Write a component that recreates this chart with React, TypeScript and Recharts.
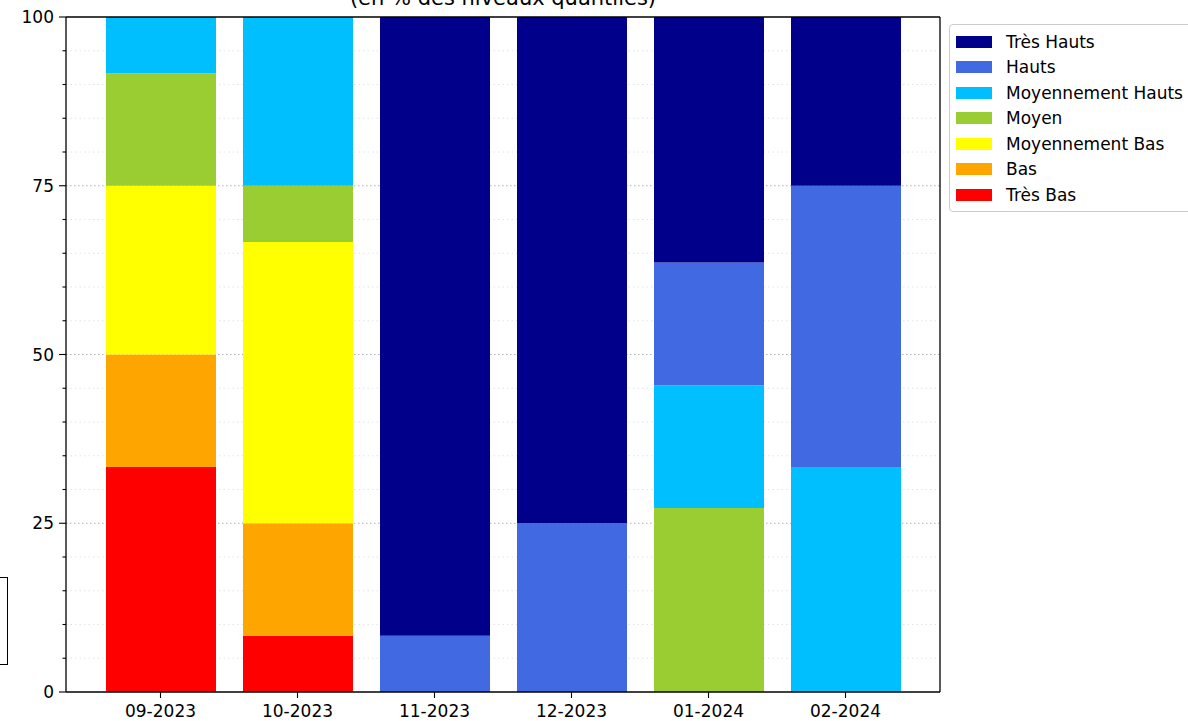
import { Bar, BarChart, CartesianGrid, Legend, XAxis, YAxis } from "recharts";

const months = ["09-2023", "10-2023", "11-2023", "12-2023", "01-2024", "02-2024"];
const tresBas = [33.33, 8.33, 0, 0, 0, 0];
const bas = [16.67, 16.67, 0, 0, 0, 0];
const moyBas = [25, 41.67, 0, 0, 0, 0];
const moyen = [16.67, 8.33, 0, 0, 27.27, 0];
const moyHauts = [8.33, 25, 0, 0, 18.18, 33.33];
const hauts = [0, 0, 8.33, 25, 18.18, 41.67];
const tresHauts = [0, 0, 91.67, 75, 36.36, 25];

const yTicks = [0, 5, 10, 15, 20, 25, 30, 35, 40, 45, 50, 55, 60, 65, 70, 75, 80, 85, 90, 95, 100];
const majorTicks = [25, 50, 75];
const minorTicks = yTicks.filter((t) => t % 25 !== 0);

// bottom to top of the stack
const series = [
  { key: "tresBas", name: "Très Bas", color: "#FF0000", values: tresBas },
  { key: "bas", name: "Bas", color: "#FFA500", values: bas },
  { key: "moyBas", name: "Moyennement Bas", color: "#FFFF00", values: moyBas },
  { key: "moyen", name: "Moyen", color: "#9ACD32", values: moyen },
  { key: "moyHauts", name: "Moyennement Hauts", color: "#00BFFF", values: moyHauts },
  { key: "hauts", name: "Hauts", color: "#4169E1", values: hauts },
  { key: "tresHauts", name: "Très Hauts", color: "#00008B", values: tresHauts },
];

const data = months.map((m, i) => {
  const row: Record<string, string | number> = { month: m };
  series.forEach((s) => {
    row[s.key] = s.values[i];
  });
  return row;
});

const FONT = "'DejaVu Sans', sans-serif";

function YTick(props: any) {
  const { x, y, payload } = props;
  const major = payload.value % 25 === 0;
  return (
    <g>
      <line x1={x - (major ? 7 : 3.5)} x2={x} y1={y} y2={y} stroke="#000" strokeWidth={1.1} />
      {major && (
        <text x={x - 12} y={y} textAnchor="end" dominantBaseline="central" fontSize={17} fill="#000" fontFamily={FONT}>
          {payload.value}
        </text>
      )}
    </g>
  );
}

function LegendBox() {
  return (
    <div
      style={{
        border: "1px solid #cccccc",
        borderRadius: 4,
        background: "#fff",
        padding: "4px 6px 3px 6px",
        width: 260,
        fontFamily: FONT,
        fontSize: 17,
        color: "#000",
      }}
    >
      {[...series].reverse().map((s) => (
        <div key={s.key} style={{ display: "flex", alignItems: "center", height: 25.5, whiteSpace: "nowrap" }}>
          <span style={{ display: "inline-block", width: 36, height: 12, background: s.color, marginRight: 14 }} />
          <span>{s.name}</span>
        </div>
      ))}
    </div>
  );
}

export default function App() {
  return (
    <div style={{ position: "fixed", left: 0, top: 0, width: 1188, height: 721, overflow: "hidden", background: "#fff" }}>
      <BarChart
        width={1188}
        height={721}
        data={data}
        margin={{ top: 16, right: 247, bottom: 28, left: 65 }}
      >
        <CartesianGrid
          vertical={false}
          horizontalValues={minorTicks}
          stroke="#dddddd"
          strokeDasharray="1.5 3"
          strokeWidth={0.8}
        />
        <CartesianGrid
          vertical={false}
          horizontalValues={majorTicks}
          stroke="#b0b0b0"
          strokeDasharray="1.5 2.5"
          strokeWidth={1}
        />
        <XAxis
          dataKey="month"
          padding={{ left: 26, right: 26 }}
          height={1}
          axisLine={{ stroke: "#000", strokeWidth: 1.3 }}
          tickLine={{ stroke: "#000", strokeWidth: 1.1 }}
          tickSize={6}
          tickMargin={7}
          tick={{ fontSize: 17, fill: "#000", fontFamily: FONT }}
          interval={0}
        />
        <XAxis
          xAxisId="top"
          dataKey="month"
          orientation="top"
          height={1}
          tick={false}
          tickLine={false}
          axisLine={{ stroke: "#000", strokeWidth: 1.3 }}
        />
        <YAxis
          domain={[0, 100]}
          ticks={yTicks}
          interval={0}
          width={1}
          tickSize={0}
          tickMargin={0}
          tickLine={false}
          axisLine={{ stroke: "#000", strokeWidth: 1.3 }}
          tick={<YTick />}
        />
        <YAxis
          yAxisId="right"
          orientation="right"
          domain={[0, 100]}
          width={1}
          tick={false}
          tickLine={false}
          axisLine={{ stroke: "#000", strokeWidth: 1.3 }}
        />
        <Legend
          layout="vertical"
          align="center"
          verticalAlign="middle"
          wrapperStyle={{ left: 949, top: 24, width: 260, height: "auto" }}
          content={() => <LegendBox />}
        />
        {series.map((s) => (
          <Bar
            key={s.key}
            dataKey={s.key}
            name={s.name}
            stackId="a"
            fill={s.color}
            barSize={110}
            isAnimationActive={false}
          />
        ))}
      </BarChart>
      <svg
        width={1188}
        height={30}
        style={{ position: "absolute", left: 0, top: 0, pointerEvents: "none" }}
      >
        <text x={503} y={5} textAnchor="middle" fontSize={21} fill="#000" fontFamily={FONT}>
          (en % des niveaux quantiles)
        </text>
      </svg>
      <div
        style={{
          position: "absolute",
          left: -100,
          top: 577,
          width: 106,
          height: 86,
          border: "1.5px solid #000",
        }}
      />
    </div>
  );
}
